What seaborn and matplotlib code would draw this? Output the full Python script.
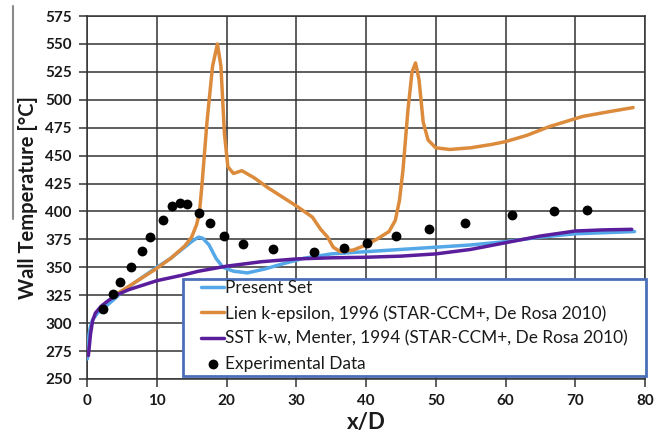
import matplotlib
matplotlib.use("Agg")
import matplotlib.pyplot as plt
from matplotlib.lines import Line2D
from matplotlib.patches import Rectangle
import seaborn as sns

# Present Set (CFD)
present_x = [0.05, 0.15, 0.3, 0.5, 0.8, 1.5, 2.5, 4.0, 5.0, 7.0, 10.0, 12.0, 14.0, 15.2, 16.0, 16.6,
             17.5, 18.5, 19.5, 21.0, 23.0, 25.5, 28.0, 31.0, 35.0, 40.0, 45.0, 50.0, 55.0, 60.0,
             65.0, 70.0, 78.5]
present_t = [268, 280, 290, 297, 303, 309, 314, 322, 328, 337, 350, 358, 368, 374, 377, 376,
             370, 358, 350, 346.5, 345, 348.5, 353, 358, 362, 364, 366, 368, 370, 373,
             377, 380, 382]

# Lien k-epsilon, 1996
lien_x = [4.2, 6.0, 8.0, 10.0, 12.0, 14.0, 15.0, 15.7, 16.1, 16.5, 17.2, 18.0, 18.7, 19.2, 19.7,
          20.2, 21.0, 22.2, 24.0, 26.0, 28.0, 30.0, 32.3, 33.5, 34.5, 35.3, 36.3, 38.2, 40.0,
          41.5, 43.3, 44.2, 44.8, 45.3, 46.0, 46.6, 47.1, 47.6, 48.2, 48.9, 50.0, 52.0, 55.0,
          58.0, 60.0, 63.0, 66.3, 71.0, 75.0, 78.3]
lien_t = [326, 333, 341, 349, 358, 369, 377, 388, 398, 425, 480, 530, 550, 530, 470,
          440, 434, 436.5, 430, 421, 413, 405, 395, 384, 377, 368, 364, 365.5, 370,
          375, 382, 392, 410, 437, 490, 525, 533, 518, 480, 464, 457, 455.5, 457,
          460, 462.5, 468, 476, 485, 489.5, 493]

# SST k-w, Menter, 1994
sst_x = [0.2, 0.5, 0.8, 1.2, 2.0, 3.0, 4.5, 6.0, 8.0, 10.0, 13.7, 16.0, 20.0, 25.0, 30.0, 35.0,
         40.0, 45.0, 50.0, 55.0, 60.0, 65.0, 70.0, 74.0, 78.1]
sst_t = [271, 290, 302, 309, 315, 320, 326, 330, 334, 338, 343, 346.5, 351, 355, 357.5, 358.5,
         359, 360, 362, 366, 372, 378, 382.5, 383.5, 384]

# Experimental Data
exp_x = [2.3, 3.7, 4.8, 6.3, 7.9, 9.1, 10.9, 12.2, 13.3, 14.4, 16.1, 17.6, 19.7, 22.3, 26.6,
         32.6, 36.8, 40.2, 44.3, 49.0, 54.2, 61.0, 66.9, 71.7]
exp_t = [313, 326, 336.5, 350, 365, 377, 392, 405, 408, 406.5, 399, 390, 378, 370.5, 366,
         364, 367, 371.5, 378, 384.5, 390, 396.5, 400.5, 401.5]

x_ticks = [0, 10, 20, 30, 40, 50, 60, 70, 80]
y_ticks = [250, 275, 300, 325, 350, 375, 400, 425, 450, 475, 500, 525, 550, 575]

sns.set_theme(style="white")
plt.rcParams["font.family"] = ["Lato", "DejaVu Sans"]

W, H = 666, 434
fig = plt.figure(figsize=(W / 100, H / 100), dpi=100)
ax = fig.add_axes([87 / W, 1 - 379 / H, (645 - 87) / W, (379 - 16) / H])

grid_c = "#333333"
ax.set_axisbelow(True)
ax.grid(True, color=grid_c, linewidth=1.1)
for s in ax.spines.values():
    s.set_color(grid_c)
    s.set_linewidth(1.1)

blue = "#55A8E8"
orange = "#DC8B3C"
purple = "#5A1E9C"

sns.lineplot(x=present_x, y=present_t, ax=ax, color=blue, lw=2.5, sort=False,
             estimator=None, label="Present Set", zorder=3)
sns.lineplot(x=lien_x, y=lien_t, ax=ax, color=orange, lw=2.5, sort=False,
             estimator=None, label="Lien k-epsilon, 1996 (STAR-CCM+, De Rosa 2010)", zorder=4)
sns.lineplot(x=sst_x, y=sst_t, ax=ax, color=purple, lw=2.5, sort=False,
             estimator=None, label="SST k-w, Menter, 1994 (STAR-CCM+, De Rosa 2010)", zorder=5)
sns.scatterplot(x=exp_x, y=exp_t, ax=ax, color="black", s=50, edgecolor="black",
                linewidth=0, label="Experimental Data", zorder=6)

ax.set_xlim(0, 80)
ax.set_ylim(250, 575)
ax.set_xticks(x_ticks)
ax.set_yticks(y_ticks)
ax.tick_params(axis="both", which="major", direction="out", length=6, width=1.1,
               color=grid_c, labelsize=11, pad=5, left=True, bottom=True)
for lab in ax.get_xticklabels() + ax.get_yticklabels():
    lab.set_fontweight("bold")
    lab.set_color("#1a1a1a")

ax.set_xlabel("x/D", fontsize=16, fontweight="bold", color="#1a1a1a", labelpad=3)
ax.set_ylabel("Wall Temperature [°C]", fontsize=14.5, fontweight="bold", color="#1a1a1a",
              labelpad=5)

# legend box: white panel with blue border over the lower right of the plot
box = Rectangle((183 / W, 1 - 376 / H), (646 - 183) / W, (376 - 279) / H,
                transform=fig.transFigure, facecolor="white", edgecolor="#4A6FB8",
                linewidth=2.0, zorder=9)
fig.add_artist(box)

handles, labels = ax.get_legend_handles_labels()
if ax.get_legend() is not None:
    ax.get_legend().remove()
leg = fig.legend(handles, labels, loc="upper left",
                 bbox_to_anchor=(201 / W, 1 - 280 / H), borderaxespad=0, borderpad=0,
                 fontsize=12.4, handlelength=1.35, handletextpad=0.05, labelspacing=0.52,
                 frameon=False)
leg.set_zorder(10)
for t in leg.get_texts():
    t.set_color("#1a1a1a")

# thin gray rule along the left edge
fig.add_artist(Line2D([13 / W, 13 / W], [1 - 219 / H, 1 - 6 / H],
                      transform=fig.transFigure, color="#8a8a8a", lw=1.5))

fig.savefig("out.png", dpi=100)
